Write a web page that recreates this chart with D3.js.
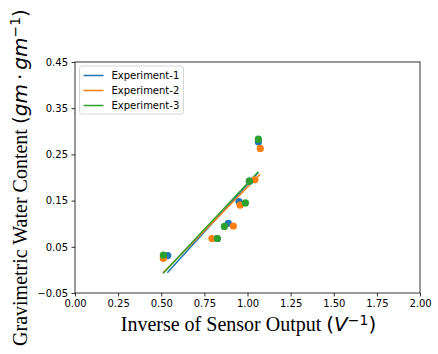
<!DOCTYPE html>
<html>
<head>
<meta charset="utf-8">
<script src="https://cdn.jsdelivr.net/npm/d3@7"></script>
<style>
  html, body { margin: 0; padding: 0; background: #fff; }
  svg { display: block; }
</style>
</head>
<body>
<svg id="chart" width="438" height="354"></svg>
<script>
// ---- data ----
const seriesNames = ["Experiment-1", "Experiment-2", "Experiment-3"];
const colors = ["#1f77b4", "#ff7f0e", "#2ca02c"];

const exp1X = [0.538, 0.825, 0.889, 0.951, 1.011, 1.063];
const exp1Y = [0.031, 0.068, 0.101, 0.148, 0.192, 0.277];
const exp2X = [0.512, 0.794, 0.918, 0.957, 1.043, 1.074];
const exp2Y = [0.025, 0.068, 0.095, 0.140, 0.195, 0.263];
const exp3X = [0.512, 0.825, 0.866, 0.988, 1.011, 1.063];
const exp3Y = [0.032, 0.068, 0.094, 0.145, 0.192, 0.283];

// fitted line end points
const fit1X = [0.535, 1.063], fit1Y = [-0.006, 0.211];
const fit2X = [0.510, 1.074], fit2Y = [-0.006, 0.207];
const fit3X = [0.510, 1.063], fit3Y = [-0.008, 0.2126];

const xTicks = [0, 0.25, 0.5, 0.75, 1.0, 1.25, 1.5, 1.75, 2.0];
const yTicks = [-0.05, 0.05, 0.15, 0.25, 0.35, 0.45];

// ---- layout ----
const svg = d3.select("#chart");
const L = 75, R = 420, T = 62, B = 293;
const x = d3.scaleLinear().domain([0, 2]).range([L, R]);
const y = d3.scaleLinear().domain([-0.05, 0.45]).range([B, T]);

const pts = [
  exp1X.map((v, i) => ({x: v, y: exp1Y[i], s: 0})),
  exp2X.map((v, i) => ({x: v, y: exp2Y[i], s: 1})),
  exp3X.map((v, i) => ({x: v, y: exp3Y[i], s: 2}))
];
const fits = [
  fit1X.map((v, i) => [v, fit1Y[i]]),
  fit2X.map((v, i) => [v, fit2Y[i]]),
  fit3X.map((v, i) => [v, fit3Y[i]])
];

const line = d3.line().x(d => x(d[0])).y(d => y(d[1]));
const gData = svg.append("g");
fits.forEach((f, i) => {
  gData.append("path").attr("d", line(f)).attr("fill", "none")
    .attr("stroke", colors[i]).attr("stroke-width", 1.5);
});
pts.forEach((p, i) => {
  gData.selectAll(null).data(p).enter().append("circle")
    .attr("cx", d => x(d.x)).attr("cy", d => y(d.y)).attr("r", 3.6)
    .attr("fill", colors[i]);
});

// axes
const fmt = d3.format(".2f");
const xAxis = d3.axisBottom(x).tickValues(xTicks).tickFormat(fmt).tickSizeInner(3.5).tickSizeOuter(0).tickPadding(3.5);
const yAxis = d3.axisLeft(y).tickValues(yTicks).tickFormat(d => fmt(d).replace("-", "\u2212")).tickSizeInner(3.5).tickSizeOuter(0).tickPadding(3.5);
const gx = svg.append("g").attr("transform", `translate(0,${B})`).call(xAxis);
const gy = svg.append("g").attr("transform", `translate(${L},0)`).call(yAxis);
[gx, gy].forEach(g => {
  g.select(".domain").remove();
  g.selectAll("line").attr("stroke", "#000").attr("stroke-width", 0.8);
  g.selectAll("text").attr("font-family", "DejaVu Sans").attr("font-size", 10).attr("fill", "#000");
});

// frame
svg.append("rect").attr("x", L).attr("y", T).attr("width", R - L).attr("height", B - T)
  .attr("fill", "none").attr("stroke", "#000").attr("stroke-width", 0.8);

// axis labels
const xl = svg.append("text").attr("x", (L + R) / 2 + 1).attr("y", 331)
  .attr("text-anchor", "middle").attr("font-size", 20).attr("fill", "#000");
xl.append("tspan").attr("font-family", "Liberation Serif").text("Inverse of Sensor Output ");
xl.append("tspan").attr("font-family", "DejaVu Sans").text("(");
xl.append("tspan").attr("font-family", "DejaVu Sans").attr("font-style", "italic").text("V");
xl.append("tspan").attr("font-family", "DejaVu Sans").attr("font-size", 14).attr("dy", -6).text("\u22121");
xl.append("tspan").attr("font-family", "DejaVu Sans").attr("dy", 6).text(")");

const yl = svg.append("text").attr("transform", `translate(27,${(T + B) / 2}) rotate(-90)`)
  .attr("text-anchor", "middle").attr("font-size", 20).attr("fill", "#000");
yl.append("tspan").attr("font-family", "Liberation Serif").text("Gravimetric Water Content ");
yl.append("tspan").attr("font-family", "DejaVu Sans").text("(");
yl.append("tspan").attr("font-family", "DejaVu Sans").attr("font-style", "italic").text("gm");
yl.append("tspan").attr("font-family", "DejaVu Sans").text("\u2009\u00b7\u2009");
yl.append("tspan").attr("font-family", "DejaVu Sans").attr("font-style", "italic").text("gm");
yl.append("tspan").attr("font-family", "DejaVu Sans").attr("font-size", 14).attr("dy", -7).text("\u22121");
yl.append("tspan").attr("font-family", "DejaVu Sans").attr("dy", 7).text(")");

// legend
const lg = svg.append("g").attr("transform", `translate(${L + 4.5},${T + 4})`);
lg.append("rect").attr("x", 0).attr("y", 0).attr("width", 104).attr("height", 48)
  .attr("rx", 2.5).attr("fill", "#fff").attr("fill-opacity", 0.8)
  .attr("stroke", "#ccc").attr("stroke-width", 0.8);
seriesNames.forEach((n, i) => {
  const yy = 9.5 + i * 15;
  lg.append("line").attr("x1", 4).attr("x2", 24).attr("y1", yy).attr("y2", yy)
    .attr("stroke", colors[i]).attr("stroke-width", 1.5);
  lg.append("text").attr("x", 32).attr("y", yy + 3.6).attr("font-family", "DejaVu Sans")
    .attr("font-size", 10).attr("fill", "#000").text(n);
});
</script>
</body>
</html>
